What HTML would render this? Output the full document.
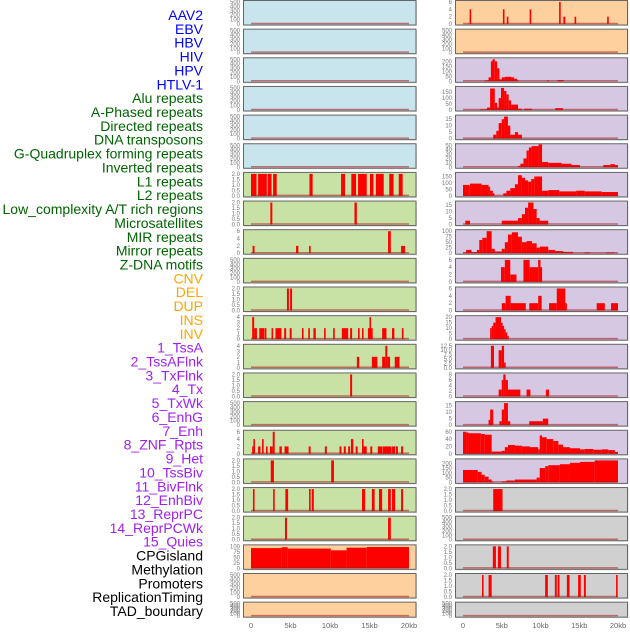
<!DOCTYPE html>
<html><head><meta charset="utf-8"><style>
body{margin:0;background:#fff;width:630px;height:630px;overflow:hidden;font-family:"Liberation Sans",sans-serif}
</style></head><body>
<svg id="chart" width="630" height="630" xmlns="http://www.w3.org/2000/svg" font-family="Liberation Sans, sans-serif"></svg>
<script>
const trackLabels = ["AAV2","EBV","HBV","HIV","HPV","HTLV-1","Alu repeats","A-Phased repeats","Directed repeats","DNA transposons","G-Quadruplex forming repeats","Inverted repeats","L1 repeats","L2 repeats","Low_complexity A/T rich regions","Microsatellites","MIR repeats","Mirror repeats","Z-DNA motifs","CNV","DEL","DUP","INS","INV","1_TssA","2_TssAFlnk","3_TxFlnk","4_Tx","5_TxWk","6_EnhG","7_Enh","8_ZNF_Rpts","9_Het","10_TssBiv","11_BivFlnk","12_EnhBiv","13_ReprPC","14_ReprPCWk","15_Quies","CPGisland","Methylation","Promoters","ReplicationTiming","TAD_boundary"];
const labelGroups = ["v","v","v","v","v","v","r","r","r","r","r","r","r","r","r","r","r","r","r","c","c","c","c","c","h","h","h","h","h","h","h","h","h","h","h","h","h","h","h","k","k","k","k","k"];
const xTickLabels = ["0","5kb","10kb","15kb","20kb"];
const xTickValues = [0,5,10,15,20];
const leftGroups = ["b","b","b","b","b","b","g","g","g","g","g","g","g","g","g","g","g","g","g","o","o","o"];
const rightGroups = ["o","o","p","p","p","p","p","p","p","p","p","p","p","p","p","p","p","y","y","y","y","y"];
const leftTicks = [[0,100,200,300,400,500],[0,100,200,300,400,500],[0,100,200,300,400,500],[0,100,200,300,400,500],[0,100,200,300,400,500],[0,100,200,300,400,500],
 [0,0.5,1,1.5,2],[0,0.5,1,1.5,2],[0,2,4,6],[0,100,200,300,400,500],[0,0.5,1,1.5,2],[0,1,2,3,4],[0,1,2,3,4],[0,0.5,1,1.5,2],[0,100,200,300,400,500],[0,2,4,6],[0,0.5,1,1.5,2],[0,0.5,1,1.5,2],[0,0.5,1,1.5,2],[0,25,50,75,100],[0,100,200,300,400,500],[0,100,200,300,400,500]];
const leftYmax = [500,500,500,500,500,500,2,2,6,500,2,4,4,2,500,6,2,2,2,100,500,500];
const rightTicks = [[0,2,4,6],[0,100,200,300,400,500],[0,50,100,150,200],[0,50,100,150],[0,5,10,15],[0,10,20,30,40,50],[0,50,100,150],[0,5,10,15],[0,25,50,75,100],[0,2,4,6],[0,2,4,6],[0,5,10,15,20],[0,2.5,5,7.5,10,12.5],[0,2,4,6,8],[0,5,10,15],[0,20,40,60],[0,50,100,150,200],[0,0.5,1,1.5,2],[0,100,200,300,400,500],[0,0.5,1,1.5,2],[0,0.5,1,1.5,2],[0,100,200,300,400,500]];
const rightYmax = [6,500,220,185,17,50,170,17,100,6,6,20,12.5,8,17,60,230,2,500,2,2,500];
const leftBars = [[],[],[],[],[],[],
 [[0,0.7,2],[0.9,2.0,2],[2.1,2.6,2],[2.8,3.25,2],[7.4,7.8,2],[11.4,11.9,2],[12.7,13.3,2],[13.55,14.65,2],[15.06,15.5,2],[15.8,16.8,2],[17.5,18.05,2],[18.7,19.2,2]],
 [[2.45,2.7,2],[13.1,13.4,2]],
 [[0.2,0.45,2],[5.7,6.0,2],[7.35,7.55,2],[17.35,17.7,6],[19.0,19.5,2]],
 [],
 [[4.55,4.8,2],[4.95,5.2,2]],
 [[0.15,0.4,4],[0.4,0.75,2],[1.05,1.65,2],[1.7,1.95,2],[2.6,2.8,2],[3.1,3.85,2],[4.2,4.45,2],[4.9,5.15,2],[6.45,6.65,2],[7.25,7.45,2],[7.9,8.2,2],[9.25,9.45,2],[10.4,10.6,2],[11.5,12.3,2],[12.55,12.8,2],[13.55,13.75,2],[14.05,14.25,2],[14.8,15.0,2],[15.0,15.2,4],[15.2,15.4,2],[16.6,17.15,2],[17.85,18.15,2],[19.1,19.3,2]],
 [[13.4,13.7,2],[15.3,16.0,2],[16.6,17.0,2],[17.0,17.25,4],[17.25,17.6,2],[18.2,18.8,2]],
 [[12.55,12.8,2]],
 [],
 [[0.15,0.3,2],[0.3,0.45,4],[0.9,1.2,2],[1.4,1.6,4],[1.9,2.1,2],[2.4,2.75,2],[2.75,3.0,6],[3.6,3.9,2],[4.25,4.75,2],[7.3,7.55,2],[9.35,9.6,2],[11.2,11.45,2],[11.75,12.0,2],[12.3,12.55,2],[12.65,12.95,4],[13.25,13.5,2],[14.05,14.25,4],[14.25,14.65,2],[15.1,15.35,2],[16.05,16.65,2],[16.7,17.8,2],[17.85,18.25,2],[18.35,18.6,2],[19.0,19.25,2]],
 [[2.5,2.9,2],[10.15,10.5,2]],
 [[0.25,0.45,2],[2.8,3.0,2],[4.35,4.7,2],[7.35,7.55,2],[7.7,7.95,2],[14.05,14.45,2],[15.3,15.65,2],[16.2,16.6,2],[17.35,17.7,2],[17.85,18.25,2],[19.0,19.25,2]],
 [[4.3,4.55,2],[17.35,17.7,2]],
 [[0,3.88,92],[3.88,4.64,96],[4.64,10.1,90],[10.1,12.1,82],[12.1,14.65,94],[14.65,20,97]],
 [],[]];
const rightBars = [
 [[0.85,1.0,4],[5.15,5.3,4],[5.65,5.8,2],[8.6,8.75,4],[12.4,12.55,6],[12.95,13.2,2],[14.4,14.55,2],[18.6,18.75,2]],
 [],
 [[2.7,2.9,5],[2.9,3.3,10],[3.3,3.6,40],[3.6,3.8,200],[3.8,4.1,220],[4.1,4.4,200],[4.4,4.7,130],[4.7,5.0,20],[5.0,5.4,40],[5.4,6.2,45],[6.2,6.6,40],[6.6,7.0,25],[7.0,7.2,8],[10.8,11.1,8],[12.2,13.0,12]],
 [[2.2,3.1,5],[3.1,3.5,20],[3.5,4.1,180],[4.1,4.4,60],[4.4,4.6,20],[4.6,4.9,100],[4.9,5.3,185],[5.3,5.6,160],[5.6,5.9,130],[5.9,6.2,80],[6.2,7.1,45],[7.1,7.6,10],[7.9,8.9,10],[11.9,12.9,15]],
 [[3.9,4.3,3],[4.3,4.6,6],[4.6,5.0,12],[5.0,5.3,15],[5.3,5.8,17],[5.8,6.1,10],[6.1,6.7,3],[6.7,7.1,5],[7.1,7.6,3]],
 [[7.1,7.4,3],[7.4,7.8,8],[7.8,8.2,20],[8.2,8.5,38],[8.5,8.85,45],[8.85,9.75,48],[9.75,10.2,52],[10.2,11.0,12],[11.0,12.7,10],[12.7,14.0,8],[14.0,15.1,5],[18.1,19.0,5],[19.0,19.6,7],[19.6,20,5]],
 [[0,0.8,85],[0.8,0.9,80],[0.9,2.4,95],[2.4,3.3,85],[3.3,3.5,70],[3.5,3.85,40],[3.85,4.0,20],[5.2,5.6,20],[5.6,6.1,40],[6.1,6.7,60],[6.7,7.1,90],[7.1,7.6,160],[7.6,8.0,140],[8.0,8.4,120],[8.4,8.8,110],[8.8,9.2,130],[9.2,10.2,150],[10.2,11.0,40],[11.0,12.4,45],[12.4,14.6,35],[14.6,15.7,40],[15.7,17.9,35],[17.9,20,30]],
 [[0.3,0.9,3],[5.0,7.1,3],[7.1,7.6,5],[7.6,8.0,8],[8.0,8.4,13],[8.4,9.1,17],[9.1,9.5,12],[9.5,9.9,5],[9.9,11.0,3]],
 [[0,0.4,3],[0.4,1.1,15],[1.1,1.8,5],[1.8,2.1,15],[2.1,2.5,60],[2.5,3.05,70],[3.05,3.7,100],[3.7,4.1,20],[4.1,5.0,8],[5.0,5.4,20],[5.4,5.8,50],[5.8,6.3,85],[6.3,7.1,95],[7.1,7.6,75],[7.6,8.2,50],[8.2,8.9,55],[8.9,9.5,45],[9.5,9.9,25],[9.9,11.0,30],[11.0,11.9,15],[11.9,12.9,10],[12.9,14.2,6],[15.7,16.4,3],[18.5,19.6,3]],
 [[4.9,5.4,4],[5.4,6.1,6],[6.1,6.9,2],[7.8,8.6,6],[8.6,9.7,4],[9.7,10.0,6],[10.0,10.2,4]],
 [[5.0,5.5,2],[5.5,6.15,4],[6.15,8.1,2],[8.55,9.7,2],[9.7,10.15,4],[11.1,12.1,2],[12.1,13.2,6],[13.2,13.4,2],[17.25,18.3,2],[19.1,20,2]],
 [[3.5,3.7,10],[3.7,3.9,12],[3.9,4.2,15],[4.2,4.9,20],[4.9,5.1,15],[5.1,5.3,12],[5.3,5.5,9],[5.5,5.7,6],[5.7,5.9,3]],
 [[3.6,4.0,12.5],[4.6,5.0,10],[5.0,5.3,12.5],[5.3,5.45,3]],
 [[4.6,5.0,2.5],[5.0,5.2,6],[5.2,5.5,8],[5.5,5.8,6],[5.8,7.4,2.5],[8.2,8.7,2.5],[10.7,11.1,2.5]],
 [[3.3,3.5,4],[3.5,3.9,12],[4.7,5.0,3],[5.0,5.3,12],[5.3,5.8,17],[5.8,6.1,3],[8.55,10.3,3],[10.3,11.0,5]],
 [[0,0.4,60],[0.4,0.7,58],[0.7,2.3,56],[2.3,2.8,54],[2.8,3.7,52],[3.7,5.0,6],[5.0,5.4,8],[5.4,5.8,18],[5.8,6.7,24],[6.7,7.6,22],[7.6,8.65,20],[8.65,9.7,18],[9.7,9.9,12],[9.9,10.2,50],[10.2,10.8,45],[10.8,11.65,40],[11.65,12.3,35],[12.3,12.9,25],[12.9,13.8,18],[13.8,15.1,15],[15.1,15.7,12],[15.7,16.8,13],[16.8,17.9,11],[17.9,18.75,12],[18.75,19.6,10],[19.6,20,5]],
 [[0,1.9,130],[1.9,2.4,110],[2.4,2.8,80],[2.8,3.3,60],[3.3,3.7,30],[3.7,3.9,10],[5.0,5.6,10],[5.6,6.7,20],[6.7,9.5,30],[9.5,9.9,50],[9.9,10.6,150],[10.6,11.0,170],[11.0,12.5,180],[12.5,13.8,190],[13.8,15.1,205],[15.1,17.0,215],[17.0,20,230]],
 [[3.9,5.1,2]],
 [],
 [[3.85,4.25,2],[4.5,4.9,2],[5.65,5.9,2]],
 [[2.45,2.65,2],[3.3,3.7,2],[10.6,10.95,2],[11.85,12.1,2],[12.2,12.45,2],[13.4,13.75,2],[14.85,15.2,2],[15.6,15.85,2],[19.75,19.95,2]],
 []];

const NS="http://www.w3.org/2000/svg";
const svg=document.getElementById('chart');
function mk(tag,attrs,parent){const e=document.createElementNS(NS,tag);for(const k in attrs)e.setAttribute(k,attrs[k]);(parent||svg).appendChild(e);return e;}
const labelColor={v:"#0000ff",r:"#006400",c:"#ffa500",h:"#a020f0",k:"#000000"};
const bgColor={b:"#c8e4ec",g:"#c8e1a5",o:"#fed09e",p:"#d6c7e2",y:"#d0d0d0"};
const labelStep=(611-15)/(trackLabels.length-1);
trackLabels.forEach((t,i)=>{
  const el=mk('text',{x:203,y:15+i*labelStep+5,'text-anchor':'end','font-size':14,fill:labelColor[labelGroups[i]]});
  el.textContent=t;
  
  
});
const cols=[{x0:243.5,x1:416,k0:251,k1:409,tickX:240,bars:leftBars,ymax:leftYmax,ticks:leftTicks,groups:leftGroups,name:'left'},
            {x0:455.5,x1:627.5,k0:463,k1:618,tickX:452,bars:rightBars,ymax:rightYmax,ticks:rightTicks,groups:rightGroups,name:'right'}];
function fmt(v,ticks){const dec=ticks.some(t=>t%1!==0);return dec?v.toFixed(1):String(v);}
cols.forEach(c=>{
  const xs=kb=>c.k0+(c.k1-c.k0)*kb/20;
  for(let i=0;i<22;i++){
    const T=0.5+i*28.65, H=(i===21)?15:24.5;
    const g=mk('g',{});
    
    
    mk('rect',{x:c.x0+1,y:T+1,width:c.x1-c.x0,height:H,fill:'#bbb',opacity:0.5},g);
    mk('rect',{x:c.x0,y:T,width:c.x1-c.x0,height:H,fill:bgColor[c.groups[i]],stroke:'#666','stroke-width':1},g);
    const yb=T+H-1, yt=T+1.5, ym=c.ymax[i];
    const ys=v=>yb-(yb-yt)*v/ym;
    c.bars[i].forEach(b=>{
      let x1=xs(b[0]),x2=xs(b[1]);if(x2-x1<1.6)x2=x1+1.6;
      const r=mk('rect',{x:x1,y:ys(b[2]),width:x2-x1,height:yb-ys(b[2]),fill:'#ff0000'},g);
      
      
    });
    mk('line',{x1:xs(0),x2:xs(20),y1:yb-0.5,y2:yb-0.5,stroke:'rgba(170,20,20,0.55)','stroke-width':1.5},g);
    c.ticks[i].forEach(v=>{
      const tx=mk('text',{x:c.tickX,y:ys(v)+2,'text-anchor':'end','font-size':6,fill:'#777'},g);
      tx.textContent=fmt(v,c.ticks[i]);
      
      
    });
  }
  xTickValues.forEach((v,j)=>{
    const tx=mk('text',{x:xs(v),y:628,'text-anchor':'middle','font-size':7.5,fill:'#666'});
    tx.textContent=xTickLabels[j];
    
    
  });
});
</script>
</body></html>
